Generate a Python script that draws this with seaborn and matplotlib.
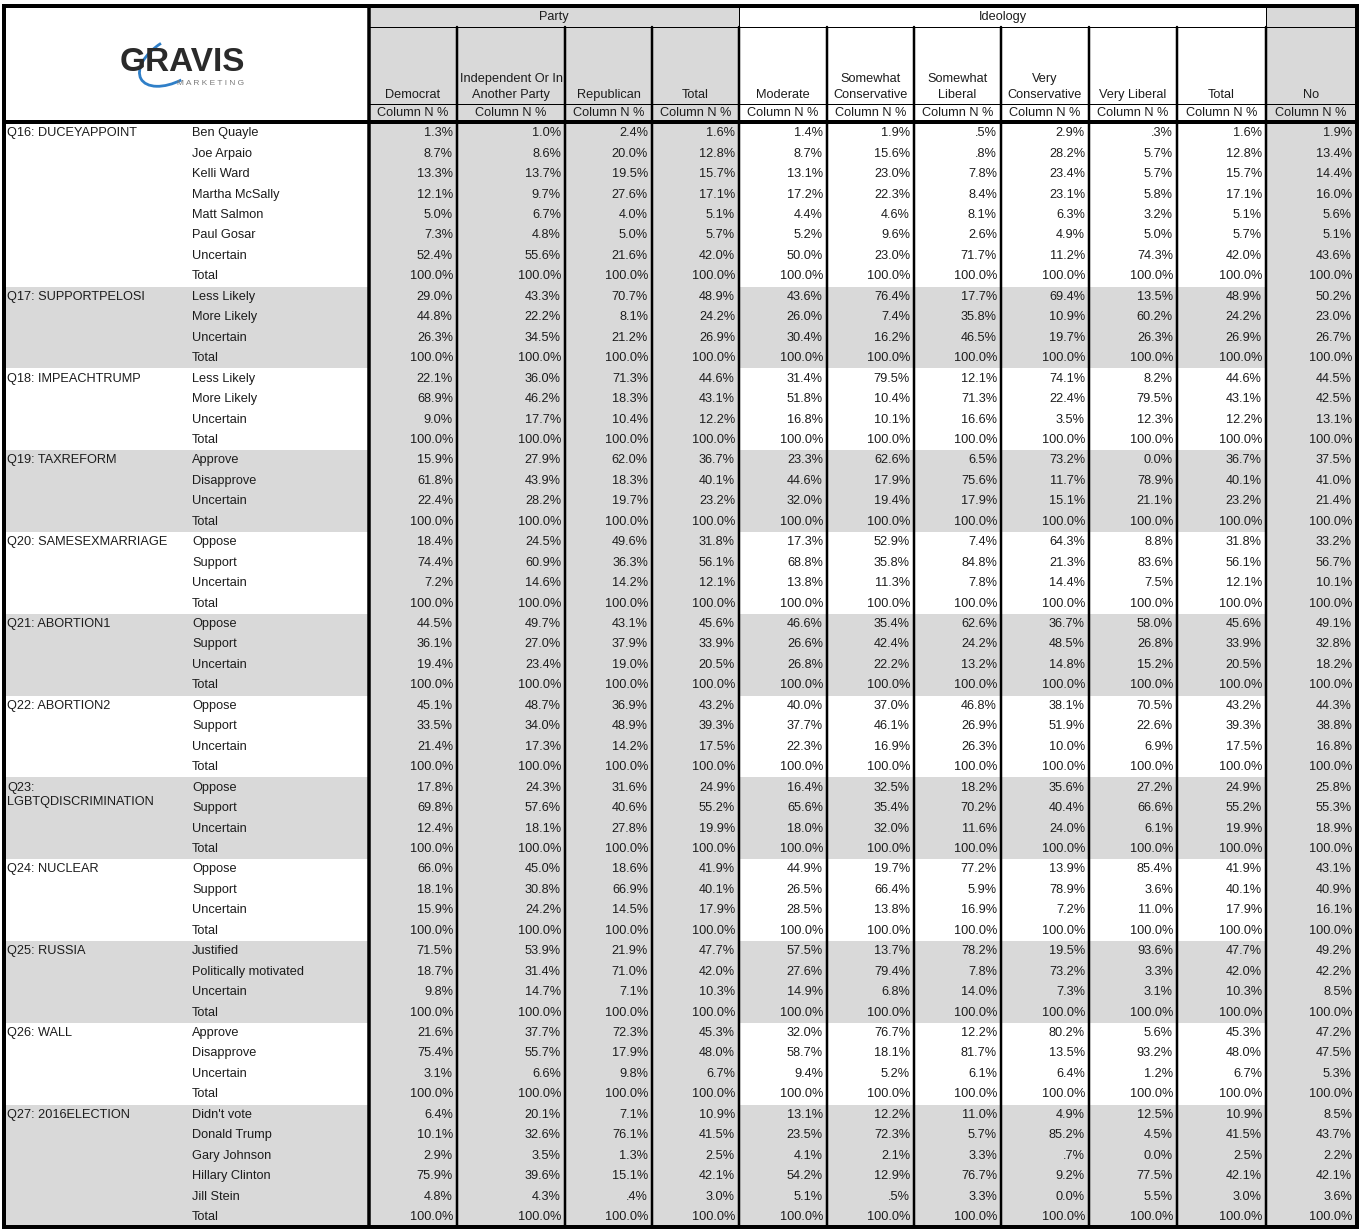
import numpy as np
import pandas as pd
import matplotlib.pyplot as plt
from matplotlib.colors import ListedColormap
from matplotlib.patches import Rectangle, Arc
import seaborn as sns

# ---- data (Column N %) ----
columns = ["Democrat", "Independent Or In\nAnother Party", "Republican", "Total",
           "Moderate", "Somewhat\nConservative", "Somewhat\nLiberal", "Very\nConservative",
           "Very Liberal", "Total", "No"]

TOTAL = [100.0] * 11

q16_answers = ["Ben Quayle", "Joe Arpaio", "Kelli Ward", "Martha McSally", "Matt Salmon",
               "Paul Gosar", "Uncertain", "Total"]
q16_values = [
    [1.3, 1.0, 2.4, 1.6, 1.4, 1.9, 0.5, 2.9, 0.3, 1.6, 1.9],
    [8.7, 8.6, 20.0, 12.8, 8.7, 15.6, 0.8, 28.2, 5.7, 12.8, 13.4],
    [13.3, 13.7, 19.5, 15.7, 13.1, 23.0, 7.8, 23.4, 5.7, 15.7, 14.4],
    [12.1, 9.7, 27.6, 17.1, 17.2, 22.3, 8.4, 23.1, 5.8, 17.1, 16.0],
    [5.0, 6.7, 4.0, 5.1, 4.4, 4.6, 8.1, 6.3, 3.2, 5.1, 5.6],
    [7.3, 4.8, 5.0, 5.7, 5.2, 9.6, 2.6, 4.9, 5.0, 5.7, 5.1],
    [52.4, 55.6, 21.6, 42.0, 50.0, 23.0, 71.7, 11.2, 74.3, 42.0, 43.6],
    TOTAL,
]
q17_answers = ["Less Likely", "More Likely", "Uncertain", "Total"]
q17_values = [
    [29.0, 43.3, 70.7, 48.9, 43.6, 76.4, 17.7, 69.4, 13.5, 48.9, 50.2],
    [44.8, 22.2, 8.1, 24.2, 26.0, 7.4, 35.8, 10.9, 60.2, 24.2, 23.0],
    [26.3, 34.5, 21.2, 26.9, 30.4, 16.2, 46.5, 19.7, 26.3, 26.9, 26.7],
    TOTAL,
]
q18_answers = ["Less Likely", "More Likely", "Uncertain", "Total"]
q18_values = [
    [22.1, 36.0, 71.3, 44.6, 31.4, 79.5, 12.1, 74.1, 8.2, 44.6, 44.5],
    [68.9, 46.2, 18.3, 43.1, 51.8, 10.4, 71.3, 22.4, 79.5, 43.1, 42.5],
    [9.0, 17.7, 10.4, 12.2, 16.8, 10.1, 16.6, 3.5, 12.3, 12.2, 13.1],
    TOTAL,
]
q19_answers = ["Approve", "Disapprove", "Uncertain", "Total"]
q19_values = [
    [15.9, 27.9, 62.0, 36.7, 23.3, 62.6, 6.5, 73.2, 0.0, 36.7, 37.5],
    [61.8, 43.9, 18.3, 40.1, 44.6, 17.9, 75.6, 11.7, 78.9, 40.1, 41.0],
    [22.4, 28.2, 19.7, 23.2, 32.0, 19.4, 17.9, 15.1, 21.1, 23.2, 21.4],
    TOTAL,
]
q20_answers = ["Oppose", "Support", "Uncertain", "Total"]
q20_values = [
    [18.4, 24.5, 49.6, 31.8, 17.3, 52.9, 7.4, 64.3, 8.8, 31.8, 33.2],
    [74.4, 60.9, 36.3, 56.1, 68.8, 35.8, 84.8, 21.3, 83.6, 56.1, 56.7],
    [7.2, 14.6, 14.2, 12.1, 13.8, 11.3, 7.8, 14.4, 7.5, 12.1, 10.1],
    TOTAL,
]
q21_answers = ["Oppose", "Support", "Uncertain", "Total"]
q21_values = [
    [44.5, 49.7, 43.1, 45.6, 46.6, 35.4, 62.6, 36.7, 58.0, 45.6, 49.1],
    [36.1, 27.0, 37.9, 33.9, 26.6, 42.4, 24.2, 48.5, 26.8, 33.9, 32.8],
    [19.4, 23.4, 19.0, 20.5, 26.8, 22.2, 13.2, 14.8, 15.2, 20.5, 18.2],
    TOTAL,
]
q22_answers = ["Oppose", "Support", "Uncertain", "Total"]
q22_values = [
    [45.1, 48.7, 36.9, 43.2, 40.0, 37.0, 46.8, 38.1, 70.5, 43.2, 44.3],
    [33.5, 34.0, 48.9, 39.3, 37.7, 46.1, 26.9, 51.9, 22.6, 39.3, 38.8],
    [21.4, 17.3, 14.2, 17.5, 22.3, 16.9, 26.3, 10.0, 6.9, 17.5, 16.8],
    TOTAL,
]
q23_answers = ["Oppose", "Support", "Uncertain", "Total"]
q23_values = [
    [17.8, 24.3, 31.6, 24.9, 16.4, 32.5, 18.2, 35.6, 27.2, 24.9, 25.8],
    [69.8, 57.6, 40.6, 55.2, 65.6, 35.4, 70.2, 40.4, 66.6, 55.2, 55.3],
    [12.4, 18.1, 27.8, 19.9, 18.0, 32.0, 11.6, 24.0, 6.1, 19.9, 18.9],
    TOTAL,
]
q24_answers = ["Oppose", "Support", "Uncertain", "Total"]
q24_values = [
    [66.0, 45.0, 18.6, 41.9, 44.9, 19.7, 77.2, 13.9, 85.4, 41.9, 43.1],
    [18.1, 30.8, 66.9, 40.1, 26.5, 66.4, 5.9, 78.9, 3.6, 40.1, 40.9],
    [15.9, 24.2, 14.5, 17.9, 28.5, 13.8, 16.9, 7.2, 11.0, 17.9, 16.1],
    TOTAL,
]
q25_answers = ["Justified", "Politically motivated", "Uncertain", "Total"]
q25_values = [
    [71.5, 53.9, 21.9, 47.7, 57.5, 13.7, 78.2, 19.5, 93.6, 47.7, 49.2],
    [18.7, 31.4, 71.0, 42.0, 27.6, 79.4, 7.8, 73.2, 3.3, 42.0, 42.2],
    [9.8, 14.7, 7.1, 10.3, 14.9, 6.8, 14.0, 7.3, 3.1, 10.3, 8.5],
    TOTAL,
]
q26_answers = ["Approve", "Disapprove", "Uncertain", "Total"]
q26_values = [
    [21.6, 37.7, 72.3, 45.3, 32.0, 76.7, 12.2, 80.2, 5.6, 45.3, 47.2],
    [75.4, 55.7, 17.9, 48.0, 58.7, 18.1, 81.7, 13.5, 93.2, 48.0, 47.5],
    [3.1, 6.6, 9.8, 6.7, 9.4, 5.2, 6.1, 6.4, 1.2, 6.7, 5.3],
    TOTAL,
]
q27_answers = ["Didn't vote", "Donald Trump", "Gary Johnson", "Hillary Clinton", "Jill Stein", "Total"]
q27_values = [
    [6.4, 20.1, 7.1, 10.9, 13.1, 12.2, 11.0, 4.9, 12.5, 10.9, 8.5],
    [10.1, 32.6, 76.1, 41.5, 23.5, 72.3, 5.7, 85.2, 4.5, 41.5, 43.7],
    [2.9, 3.5, 1.3, 2.5, 4.1, 2.1, 3.3, 0.7, 0.0, 2.5, 2.2],
    [75.9, 39.6, 15.1, 42.1, 54.2, 12.9, 76.7, 9.2, 77.5, 42.1, 42.1],
    [4.8, 4.3, 0.4, 3.0, 5.1, 0.5, 3.3, 0.0, 5.5, 3.0, 3.6],
    TOTAL,
]

groups = [
    ("Q16: DUCEYAPPOINT", q16_answers, q16_values),
    ("Q17: SUPPORTPELOSI", q17_answers, q17_values),
    ("Q18: IMPEACHTRUMP", q18_answers, q18_values),
    ("Q19: TAXREFORM", q19_answers, q19_values),
    ("Q20: SAMESEXMARRIAGE", q20_answers, q20_values),
    ("Q21: ABORTION1", q21_answers, q21_values),
    ("Q22: ABORTION2", q22_answers, q22_values),
    ("Q23:\nLGBTQDISCRIMINATION", q23_answers, q23_values),
    ("Q24: NUCLEAR", q24_answers, q24_values),
    ("Q25: RUSSIA", q25_answers, q25_values),
    ("Q26: WALL", q26_answers, q26_values),
    ("Q27: 2016ELECTION", q27_answers, q27_values),
]

# ---- layout (pixels) ----
W, H = 1364, 1229
col_edges = [369, 457, 565, 652, 739, 827, 914, 1001, 1089, 1177, 1266, 1356]
left, top = 4, 6
y_row1, y_row2, y_body = 27, 104, 123
row_h = 20.45
gray = "#d9d9d9"
ink = "#1c1c1c"
fs = 9.2


def fmt(v):
    s = f"{v:.1f}%"
    if 0 < v < 1:
        s = s[1:]  # SPSS style ".5%"
    return s


def main():
    rows = []
    for gi, (q, answers, values) in enumerate(groups):
        for k, (a, vals) in enumerate(zip(answers, values)):
            rows.append([gi, q if k == 0 else "", a] + list(vals))
    df = pd.DataFrame(rows, columns=["group", "question", "answer"] + [f"c{j}" for j in range(11)])
    n = len(df)
    y_end = y_body + n * row_h

    sns.set_theme(style="white")
    plt.rcParams['font.family'] = ['Liberation Sans', 'DejaVu Sans']

    fig = plt.figure(figsize=(W / 100, H / 100), dpi=100)
    bg = fig.add_axes([0, 0, 1, 1])
    bg.set_xlim(0, W)
    bg.set_ylim(H, 0)
    bg.axis('off')

    # header shading
    bg.add_patch(Rectangle((col_edges[0], top), col_edges[4] - col_edges[0], y_body - top, color=gray, lw=0))
    bg.add_patch(Rectangle((col_edges[10], top), col_edges[11] - col_edges[10], y_body - top, color=gray, lw=0))

    # label area shading (one band per question)
    for gi, block in df.groupby("group"):
        if gi % 2 == 1:
            y0 = y_body + block.index[0] * row_h
            bg.add_patch(Rectangle((left, y0), col_edges[0] - left, len(block) * row_h, color=gray, lw=0))

    # row labels
    for i, r in df.iterrows():
        yc = y_body + i * row_h + row_h / 2
        if r["question"]:
            for li, line in enumerate(r["question"].split("\n")):
                bg.text(7, yc + li * 14.5, line, fontsize=fs, color=ink, va='center', ha='left')
        bg.text(192, yc, r["answer"], fontsize=fs, color=ink, va='center', ha='left')

    # headers
    bg.text((col_edges[0] + col_edges[4]) / 2, 17, "Party", fontsize=fs, color=ink, ha='center', va='center')
    bg.text((col_edges[4] + col_edges[10]) / 2, 17, "Ideology", fontsize=fs, color=ink, ha='center', va='center')
    for j, name in enumerate(columns):
        xc = (col_edges[j] + col_edges[j + 1]) / 2
        bg.text(xc, 101, name, fontsize=fs, color=ink, ha='center', va='bottom',
                multialignment='center', linespacing=1.4)
        bg.text(xc, 113.5, "Column N %", fontsize=fs, color=ink, ha='center', va='center')

    # logo
    bg.text(182, 71, "GRAVIS", fontsize=24, fontweight='bold', color="#2a2a2a", ha='center', va='baseline')
    bg.text(211, 83.5, "M A R K E T I N G", fontsize=6, color="#7a7a7a", ha='center', va='center')
    bg.add_patch(Arc((174, 60), 76, 42, angle=-30, theta1=100, theta2=262, color="#2f7fc8", lw=2.0))

    # data cells: one seaborn heatmap per column
    cmap = ListedColormap(["#ffffff", gray])
    for j in range(11):
        x0, x1 = col_edges[j], col_edges[j + 1]
        ax = fig.add_axes([x0 / W, 1 - y_end / H, (x1 - x0) / W, (y_end - y_body) / H])
        if j < 4 or j == 10:
            shade = np.ones((n, 1))
        else:
            shade = (df["group"].to_numpy() % 2).reshape(-1, 1).astype(float)
        annot = np.array([fmt(v) for v in df[f"c{j}"]]).reshape(-1, 1)
        sns.heatmap(shade, ax=ax, cmap=cmap, vmin=0, vmax=1, cbar=False, annot=annot, fmt='',
                    annot_kws={'fontsize': fs, 'color': ink, 'ha': 'right'},
                    xticklabels=False, yticklabels=False, linewidths=0)
        pad = 1 - 4.0 / (x1 - x0)
        for t in ax.texts:
            t.set_x(pad)

    # grid lines on top
    ov = fig.add_axes([0, 0, 1, 1])
    ov.set_xlim(0, W)
    ov.set_ylim(H, 0)
    ov.axis('off')
    px = 0.72
    ov.add_patch(Rectangle((left, top), col_edges[-1] + 1 - left, y_end - top, fill=False,
                           ec='black', lw=4 * px))
    ov.plot([left, col_edges[-1] + 1], [y_body - 1.5, y_body - 1.5], color='black', lw=4 * px)
    ov.plot([col_edges[0], col_edges[0]], [top, y_end], color='black', lw=3.5 * px)
    for j in (4, 10):
        ov.plot([col_edges[j], col_edges[j]], [top, y_row1], color='black', lw=1 * px)
    for x in col_edges[1:-1]:
        ov.plot([x, x], [y_row1, y_end], color='black', lw=2.5 * px)
    for y in (y_row1, y_row2):
        ov.plot([col_edges[0], col_edges[-1]], [y, y], color='black', lw=1 * px)

    fig.savefig("out.png", dpi=100)


if __name__ == "__main__":
    main()
